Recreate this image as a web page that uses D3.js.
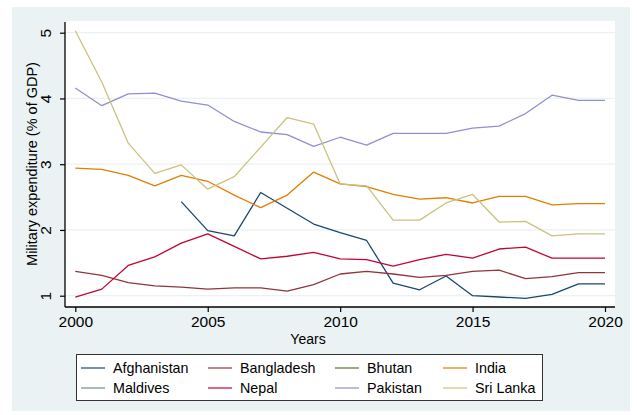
<!DOCTYPE html>
<html>
<head>
<meta charset="utf-8">
<script src="https://cdn.jsdelivr.net/npm/d3@7"></script>
<style>
  body { margin: 0; background: #fff; }
  text { font-family: "Liberation Sans", Arial, sans-serif; fill: #000; }
</style>
</head>
<body>
<div id="graph"></div>
<script>
var width = 637, height = 415

var years = d3.range(2000, 2021)
var yTicks = [1, 2, 3, 4, 5]
var xTicks = [2000, 2005, 2010, 2015, 2020]

var countries = ['Afghanistan', 'Bangladesh', 'Bhutan', 'India', 'Maldives', 'Nepal', 'Pakistan', 'Sri Lanka']
var colors = ['#1a476f', '#90353b', '#55752f', '#e37e00', '#6e8e84', '#c10534', '#938dd2', '#cac27e']

// null = no data that year
var afghanistan = [null, null, null, null, 2.43, 1.99, 1.91, 2.57, 2.33, 2.09, 1.96, 1.84, 1.19, 1.09, 1.30, 1.00, 0.98, 0.96, 1.02, 1.18, 1.18]
var bangladesh = [1.37, 1.31, 1.20, 1.15, 1.13, 1.10, 1.12, 1.12, 1.07, 1.17, 1.33, 1.37, 1.33, 1.28, 1.31, 1.37, 1.39, 1.26, 1.29, 1.35, 1.35]
var bhutan = []
var india = [2.94, 2.92, 2.83, 2.67, 2.83, 2.74, 2.53, 2.34, 2.53, 2.88, 2.70, 2.66, 2.54, 2.47, 2.49, 2.41, 2.51, 2.51, 2.38, 2.40, 2.40]
var maldives = []
var nepal = [0.98, 1.10, 1.46, 1.59, 1.80, 1.94, 1.75, 1.56, 1.60, 1.66, 1.56, 1.55, 1.45, 1.55, 1.63, 1.57, 1.71, 1.74, 1.57, 1.57, 1.57]
var pakistan = [4.16, 3.89, 4.07, 4.08, 3.96, 3.90, 3.65, 3.49, 3.45, 3.27, 3.41, 3.29, 3.47, 3.47, 3.47, 3.55, 3.58, 3.77, 4.05, 3.97, 3.97]
var sriLanka = [5.03, 4.25, 3.32, 2.86, 2.99, 2.62, 2.81, 3.26, 3.71, 3.61, 2.70, 2.67, 2.15, 2.15, 2.41, 2.54, 2.12, 2.13, 1.91, 1.94, 1.94]

var series = [afghanistan, bangladesh, bhutan, india, maldives, nepal, pakistan, sriLanka]

var x = d3.scaleLinear().domain([2000, 2020]).range([75.3, 605])
var y = d3.scaleLinear().domain([1, 5]).range([295.7, 32.7])

var svg = d3.select('#graph').append('svg')
    .attr('width', width).attr('height', height)

// outer graph region
svg.append('rect')
    .attr('x', 12).attr('y', 7).attr('width', 618).attr('height', 404)
    .attr('fill', '#eaf2f3')

// plot region
svg.append('rect')
    .attr('x', 65).attr('y', 21).attr('width', 550).attr('height', 286)
    .attr('fill', '#fff')

svg.append('g').selectAll('line').data(yTicks).enter().append('line')
    .attr('x1', 65).attr('x2', 615)
    .attr('y1', d => y(d)).attr('y2', d => y(d))
    .attr('stroke', '#eaf2f3').attr('stroke-width', 1.3)

var line = d3.line()
    .defined(d => d != null)
    .x((d, i) => x(years[i]))
    .y(d => y(d))

svg.append('g').selectAll('path').data(series).enter().append('path')
    .attr('d', d => d.length ? line(d) : null)
    .attr('fill', 'none')
    .attr('stroke', (d, i) => colors[i])
    .attr('stroke-width', 1.3)
    .attr('stroke-linejoin', 'round')

// axes
var xAxis = svg.append('g')
    .attr('transform', 'translate(0,307)')
    .call(d3.axisBottom(x).tickValues(xTicks).tickFormat(d3.format('d')).tickSize(5).tickPadding(4))
xAxis.select('.domain').attr('d', 'M65,0H615').attr('stroke', '#000').attr('stroke-width', 1.3)
xAxis.selectAll('.tick line').attr('stroke', '#000').attr('stroke-width', 1.2)
xAxis.selectAll('.tick text')
    .attr('font-size', 15.5).attr('font-family', '"Liberation Sans", Arial, sans-serif')
    .attr('fill', '#000')

var yAxis = svg.append('g')
    .attr('transform', 'translate(65,0)')
    .call(d3.axisLeft(y).tickValues(yTicks).tickFormat(d3.format('d')).tickSize(5))
yAxis.select('.domain').attr('d', 'M0,22V307').attr('stroke', '#000').attr('stroke-width', 1.3)
yAxis.selectAll('.tick line').attr('stroke', '#000').attr('stroke-width', 1.2)
yAxis.selectAll('.tick text')
    .attr('x', null).attr('dy', null)
    .attr('transform', 'translate(-14,0) rotate(-90)')
    .attr('text-anchor', 'middle')
    .attr('font-size', 15.5).attr('font-family', '"Liberation Sans", Arial, sans-serif')
    .attr('fill', '#000')

svg.append('text')
    .attr('transform', 'translate(37,164) rotate(-90)')
    .attr('text-anchor', 'middle')
    .attr('font-size', 14.5)
    .text('Military expenditure (% of GDP)')

svg.append('text')
    .attr('x', 308).attr('y', 344)
    .attr('text-anchor', 'middle')
    .attr('font-size', 14)
    .text('Years')

// legend
var legend = svg.append('g')
legend.append('rect')
    .attr('x', 76.5).attr('y', 354.5).attr('width', 466).attr('height', 46)
    .attr('fill', '#fff').attr('stroke', '#333').attr('stroke-width', 1)

var colX = [81, 208, 335, 443]
var rowY = [368, 388]

var item = legend.selectAll('g.item').data(countries).enter().append('g')
    .attr('transform', (d, i) => 'translate(' + colX[i % 4] + ',' + rowY[Math.floor(i / 4)] + ')')

item.append('line')
    .attr('x1', 0).attr('x2', 24)
    .attr('stroke', (d, i) => colors[i]).attr('stroke-width', 1.2)

item.append('text')
    .attr('x', 32).attr('y', 5)
    .attr('font-size', 14.3)
    .text(d => d)
</script>
</body>
</html>
